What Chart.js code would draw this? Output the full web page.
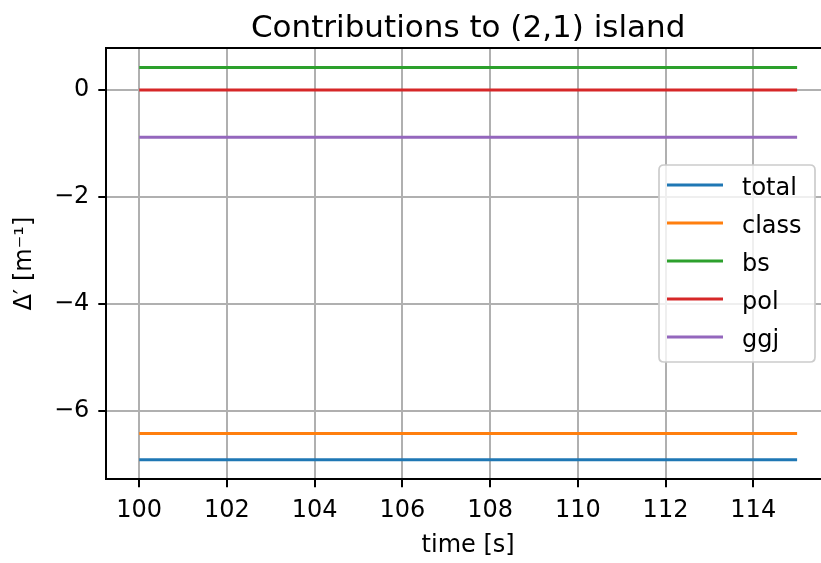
<!DOCTYPE html>
<html>
<head>
<meta charset="utf-8">
<script src="https://cdn.jsdelivr.net/npm/chart.js@4/dist/chart.umd.min.js"></script>
<style>
  html, body { margin: 0; padding: 0; background: #fff; overflow: hidden; }
  #wrap { width: 821px; height: 563px; overflow: hidden; }
</style>
</head>
<body>
<div id="wrap"><canvas id="c" width="840" height="563"></canvas></div>
<script>
// Time samples [s]
const times = [100, 101, 102, 103, 104, 105, 106, 107, 108, 109, 110, 111, 112, 113, 114, 115];

// Delta' contributions [1/m] for the (2,1) island
const total = [-6.91, -6.91, -6.91, -6.91, -6.91, -6.91, -6.91, -6.91, -6.91, -6.91, -6.91, -6.91, -6.91, -6.91, -6.91, -6.91];
const classical = [-6.42, -6.42, -6.42, -6.42, -6.42, -6.42, -6.42, -6.42, -6.42, -6.42, -6.42, -6.42, -6.42, -6.42, -6.42, -6.42];
const bs = [0.42, 0.42, 0.42, 0.42, 0.42, 0.42, 0.42, 0.42, 0.42, 0.42, 0.42, 0.42, 0.42, 0.42, 0.42, 0.42];
const pol = [0, 0, 0, 0, 0, 0, 0, 0, 0, 0, 0, 0, 0, 0, 0, 0];
const ggj = [-0.88, -0.88, -0.88, -0.88, -0.88, -0.88, -0.88, -0.88, -0.88, -0.88, -0.88, -0.88, -0.88, -0.88, -0.88, -0.88];

const seriesNames = ['total', 'class', 'bs', 'pol', 'ggj'];
const seriesColors = ['#1f77b4', '#ff7f0e', '#2ca02c', '#d62728', '#9467bd'];
const seriesValues = [total, classical, bs, pol, ggj];

const xTicks = [100, 102, 104, 106, 108, 110, 112, 114];
const yTicks = [-6, -4, -2, 0];

const FONT = 'DejaVu Sans';
const TITLE = 'Contributions to (2,1) island';

const datasets = seriesNames.map((name, i) => ({
  label: name,
  data: times.map((t, k) => ({ x: t, y: seriesValues[i][k] })),
  borderColor: seriesColors[i],
  backgroundColor: seriesColors[i],
  borderWidth: 3,
  pointRadius: 0,
  fill: false,
  tension: 0
}));

// top spine and the axes title, centred over the plot area
const frame = {
  id: 'frame',
  afterDraw(chart) {
    const { ctx, chartArea: a } = chart;
    ctx.save();
    ctx.strokeStyle = '#000';
    ctx.lineWidth = 2;
    ctx.beginPath();
    ctx.moveTo(a.left - 1, a.top);
    ctx.lineTo(a.right + 1, a.top);
    ctx.stroke();
    ctx.fillStyle = '#000';
    ctx.font = '31px "' + FONT + '"';
    ctx.textAlign = 'center';
    ctx.textBaseline = 'alphabetic';
    ctx.fillText(TITLE, (a.left + a.right) / 2, 37);
    ctx.restore();
  }
};

// boxed legend inside the plot area
const boxLegend = {
  id: 'boxLegend',
  afterDraw(chart) {
    const { ctx } = chart;
    const x0 = 659, y0 = 165, w = 156, h = 197, r = 5;
    ctx.save();
    ctx.beginPath();
    ctx.moveTo(x0 + r, y0);
    ctx.lineTo(x0 + w - r, y0);
    ctx.quadraticCurveTo(x0 + w, y0, x0 + w, y0 + r);
    ctx.lineTo(x0 + w, y0 + h - r);
    ctx.quadraticCurveTo(x0 + w, y0 + h, x0 + w - r, y0 + h);
    ctx.lineTo(x0 + r, y0 + h);
    ctx.quadraticCurveTo(x0, y0 + h, x0, y0 + h - r);
    ctx.lineTo(x0, y0 + r);
    ctx.quadraticCurveTo(x0, y0, x0 + r, y0);
    ctx.closePath();
    ctx.fillStyle = 'rgba(255,255,255,0.8)';
    ctx.fill();
    ctx.strokeStyle = '#cccccc';
    ctx.lineWidth = 1.7;
    ctx.stroke();
    ctx.font = '24px "' + FONT + '"';
    ctx.textBaseline = 'alphabetic';
    ctx.textAlign = 'left';
    chart.data.datasets.forEach((ds, i) => {
      const y = 185 + i * 38;
      ctx.strokeStyle = ds.borderColor;
      ctx.lineWidth = 3;
      ctx.beginPath();
      ctx.moveTo(667, y);
      ctx.lineTo(723, y);
      ctx.stroke();
      ctx.fillStyle = '#000';
      ctx.fillText(ds.label, 742, y + 9.5);
    });
    ctx.restore();
  }
};

new Chart(document.getElementById('c'), {
  type: 'line',
  data: { datasets },
  plugins: [frame, boxLegend],
  options: {
    responsive: false,
    animation: false,
    devicePixelRatio: 1,
    layout: { padding: { left: 0, right: 10, top: 48, bottom: 0 } },
    plugins: {
      legend: { display: false },
      tooltip: { enabled: false },
      title: { display: false }
    },
    scales: {
      x: {
        type: 'linear',
        min: 99.25,
        max: 115.75,
        afterBuildTicks(scale) { scale.ticks = xTicks.map(v => ({ value: v })); },
        afterFit(scale) { scale.height = 83.7; },
        grid: { color: '#b0b0b0', lineWidth: 2, drawTicks: true, tickLength: 8, tickColor: '#000', tickWidth: 2 },
        border: { display: true, color: '#000', width: 2 },
        ticks: { color: '#000', padding: 9, font: { family: FONT, size: 24 }, maxRotation: 0, autoSkip: false },
        title: { display: true, text: 'time [s]', color: '#000', font: { family: FONT, size: 24 }, padding: { top: 0, bottom: 3 } }
      },
      y: {
        type: 'linear',
        min: -7.2765,
        max: 0.7865,
        afterBuildTicks(scale) { scale.ticks = yTicks.map(v => ({ value: v })); },
        afterFit(scale) { scale.width = 106.3; },
        grid: { color: '#b0b0b0', lineWidth: 2, drawTicks: true, tickLength: 8, tickColor: '#000', tickWidth: 2 },
        border: { display: true, color: '#000', width: 2 },
        ticks: {
          color: '#000', padding: 9, font: { family: FONT, size: 24 }, autoSkip: false,
          callback: v => (v < 0 ? '\u2212' + Math.abs(v) : String(v))
        },
        title: { display: true, text: 'Δ′ [m⁻¹]', color: '#000', font: { family: FONT, size: 24 }, padding: { top: 10.6, bottom: 0 } }
      }
    }
  }
});
</script>
</body>
</html>
